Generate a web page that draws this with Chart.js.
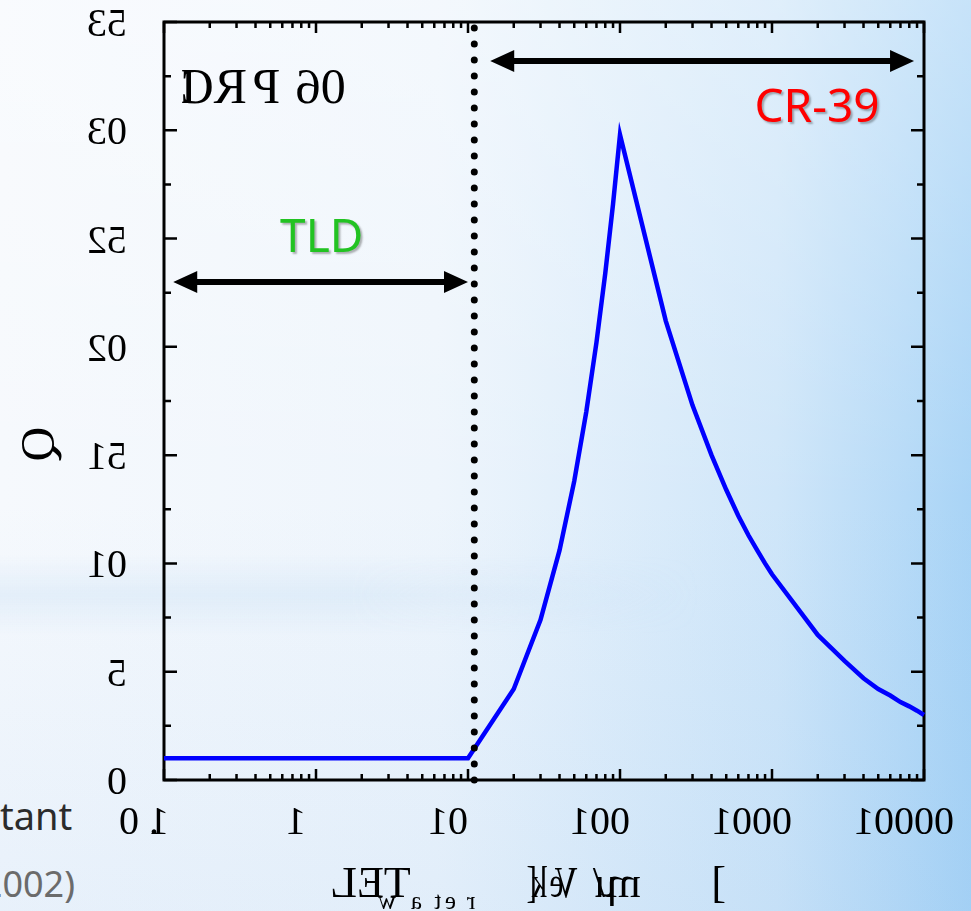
<!DOCTYPE html>
<html>
<head>
<meta charset="utf-8">
<title>Q vs LET</title>
<script src="https://cdn.jsdelivr.net/npm/chart.js@4.4.1/dist/chart.umd.min.js"></script>
<style>
  html, body { margin: 0; padding: 0; }
  body {
    width: 971px; height: 911px; overflow: hidden; position: relative;
    background:
      linear-gradient(to bottom, rgba(255,255,255,0.35) 0%, rgba(255,255,255,0) 55%, rgba(110,170,230,0.10) 100%),
      linear-gradient(to right, #f6f9fd 0%, #eef5fc 45%, #cfe6f9 80%, #a9d4f6 100%);
  }
  #band {
    position: absolute; left: 0; top: 555px; width: 700px; height: 80px;
    background: linear-gradient(to bottom, rgba(175,210,240,0), rgba(175,210,240,0.22), rgba(175,210,240,0));
    -webkit-mask-image: linear-gradient(to right, #000 0%, #000 50%, transparent 100%);
    mask-image: linear-gradient(to right, #000 0%, #000 50%, transparent 100%);
  }
  .frag { position: absolute; font-family: "Noto Sans", sans-serif; white-space: nowrap; line-height: 1; }
  #chart { position: absolute; left: 0; top: 0; }
</style>
</head>
<body>
<div id="band"></div>
<div class="frag" style="left:0; top:796px; font-size:38px; color:#2b2b2b;">tant</div>
<div class="frag" style="left:-29px; top:866px; font-size:36px; color:#6b6b6b;">(2002)</div>
<canvas id="chart" width="971" height="911"></canvas>
<script>
// Quality factor Q as a function of LET in water (keV/um)
const letValues = [0.1, 10, 20, 30, 40, 50, 60, 70, 80, 90, 100,
    200, 300, 400, 500, 600, 700, 800, 900, 1000,
    2000, 3000, 4000, 5000, 6000, 7000, 8000, 9000, 10000];
const qValues = [1, 1, 4.2, 7.4, 10.6, 13.8, 17.0, 20.2, 23.4, 26.6, 29.8,
    21.2, 17.3, 15.0, 13.4, 12.2, 11.3, 10.6, 10.0, 9.5,
    6.7, 5.5, 4.7, 4.2, 3.9, 3.6, 3.4, 3.2, 3.0];

// boundary between the two detector ranges
const boundaryLet = 11;

const xTicks = [0.1, 1, 10, 100, 1000, 10000];
const xTickLabels = ['0.1', '1', '10', '100', '1000', '10000'];
const yTicks = [0, 5, 10, 15, 20, 25, 30, 35];
const yTickLabels = ['0', '5', '10', '15', '20', '25', '30', '35'];

// range arrows (LET from, LET to, Q level) and their captions
const arrowFrom = [0.115, 14];
const arrowTo = [10, 8600];
const arrowLevel = [23.0, 33.2];
const rangeNames = ['TLD', 'CR-39'];
const rangeNameX = [1.09, 1980];
const rangeNameY = [25.0, 31.0];
const rangeNameColors = ['#22c322', '#ff0000'];

const serif = '"Liberation Serif", "Times New Roman", serif';

// Each glyph is flipped around its own origin, the string keeps its order
function drawFlippedText(ctx, text, x, y, align, opts) {
    const sx = (opts && opts.scale) || 1;
    const gap = (opts && opts.spacing) || 0;
    let total = 0;
    for (const ch of text) total += ctx.measureText(ch).width * sx + gap;
    let ox = x;
    if (align === 'center') ox = x - total / 2;
    else if (align === 'right') ox = x - total;
    ctx.textAlign = 'left';
    for (const ch of text) {
        const w = ctx.measureText(ch).width * sx;
        ctx.save();
        ctx.translate(ox, y);
        ctx.scale(-sx, 1);
        ctx.fillText(ch, 0, 0);
        ctx.restore();
        ox += w + gap;
    }
    return ox;
}

function logMinorTicks(min, max) {
    const out = [];
    for (let d = min; d < max; d *= 10) {
        for (let k = 2; k <= 9; k++) out.push(d * k);
    }
    return out;
}

const framePlugin = {
    id: 'frame',
    beforeDatasetsDraw(chart) {
        const { ctx, chartArea: a, scales: { x, y } } = chart;
        ctx.save();
        ctx.strokeStyle = '#000';
        ctx.lineWidth = 3;
        ctx.strokeRect(a.left, a.top, a.right - a.left, a.bottom - a.top);

        ctx.lineWidth = 2.5;
        ctx.beginPath();
        // y ticks on both sides, every 2.5
        for (let v = 0; v <= 35; v += 2.5) {
            const py = y.getPixelForValue(v);
            const len = v % 5 === 0 ? 13 : 7;
            ctx.moveTo(a.left, py); ctx.lineTo(a.left + len, py);
            ctx.moveTo(a.right, py); ctx.lineTo(a.right - len, py);
        }
        // x ticks on bottom and top, log spaced
        xTicks.forEach(v => {
            const px = x.getPixelForValue(v);
            ctx.moveTo(px, a.bottom); ctx.lineTo(px, a.bottom - 11);
            ctx.moveTo(px, a.top); ctx.lineTo(px, a.top + 11);
        });
        logMinorTicks(0.1, 10000).forEach(v => {
            const px = x.getPixelForValue(v);
            ctx.moveTo(px, a.bottom); ctx.lineTo(px, a.bottom - 6);
            ctx.moveTo(px, a.top); ctx.lineTo(px, a.top + 6);
        });
        ctx.stroke();
        ctx.restore();
    },
    afterDraw(chart) {
        const { ctx, chartArea: a, scales: { x, y } } = chart;
        ctx.save();
        ctx.fillStyle = '#000';
        ctx.textBaseline = 'alphabetic';

        // tick labels
        ctx.font = '40px ' + serif;
        xTicks.forEach((v, i) => {
            drawFlippedText(ctx, xTickLabels[i], x.getPixelForValue(v), a.bottom + 54, 'center');
        });
        yTicks.forEach((v, i) => {
            drawFlippedText(ctx, yTickLabels[i], a.left - 17, y.getPixelForValue(v) + 14, 'right');
        });

        // x axis title: LET with subscript, then the unit
        ctx.font = '44px ' + serif;
        drawFlippedText(ctx, 'LET', 357, 897, 'left');
        ctx.font = '25px ' + serif;
        drawFlippedText(ctx, 'water', 396, 909, 'left', { spacing: 8 });
        ctx.font = '44px ' + serif;
        drawFlippedText(ctx, '[keV', 537, 897, 'left', { scale: 0.72 });
        drawFlippedText(ctx, '/\u03bcm', 605, 897, 'left');
        drawFlippedText(ctx, ']', 726, 897, 'left');

        // y axis title
        ctx.save();
        ctx.translate(41, 444);
        ctx.rotate(-Math.PI / 2);
        ctx.scale(-1, 1);
        ctx.font = '48px ' + serif;
        ctx.textAlign = 'center';
        ctx.textBaseline = 'middle';
        ctx.fillText('Q', 0, 0);
        ctx.restore();

        // recommendation label
        ctx.font = '50px ' + serif;
        drawFlippedText(ctx, 'ICRP 60', 197, 103, 'left');

        // range arrows
        ctx.lineWidth = 6;
        ctx.strokeStyle = '#000';
        arrowFrom.forEach((from, i) => {
            const x1 = x.getPixelForValue(from);
            const x2 = x.getPixelForValue(arrowTo[i]);
            const py = y.getPixelForValue(arrowLevel[i]);
            const head = 24, half = 11;
            ctx.beginPath();
            ctx.moveTo(x1 + head - 2, py);
            ctx.lineTo(x2 - head + 2, py);
            ctx.stroke();
            ctx.beginPath();
            ctx.moveTo(x1, py);
            ctx.lineTo(x1 + head, py - half);
            ctx.lineTo(x1 + head, py + half);
            ctx.closePath();
            ctx.moveTo(x2, py);
            ctx.lineTo(x2 - head, py - half);
            ctx.lineTo(x2 - head, py + half);
            ctx.closePath();
            ctx.fill();
        });

        // range captions
        ctx.font = '46px "Noto Sans", sans-serif';
        ctx.textAlign = 'center';
        ctx.textBaseline = 'middle';
        ctx.shadowColor = 'rgba(0,0,0,0.3)';
        ctx.shadowOffsetX = 2;
        ctx.shadowOffsetY = 2;
        ctx.shadowBlur = 2;
        rangeNames.forEach((name, i) => {
            ctx.fillStyle = rangeNameColors[i];
            ctx.fillText(name, x.getPixelForValue(rangeNameX[i]), y.getPixelForValue(rangeNameY[i]));
        });
        ctx.restore();
    }
};

new Chart(document.getElementById('chart'), {
    type: 'line',
    data: {
        datasets: [
            {
                data: [{ x: boundaryLet, y: 0 }, { x: boundaryLet, y: 35 }],
                borderColor: '#000',
                borderWidth: 7,
                borderDash: [0, 16],
                borderCapStyle: 'round',
                pointRadius: 0,
                clip: false,
                order: 0
            },
            {
                data: letValues.map((v, i) => ({ x: v, y: qValues[i] })),
                borderColor: '#0000ff',
                borderWidth: 4.5,
                pointRadius: 0,
                tension: 0,
                clip: false,
                order: 1
            }
        ]
    },
    options: {
        responsive: false,
        animation: false,
        layout: { padding: { left: 164, right: 47, top: 22, bottom: 131 } },
        scales: {
            x: { type: 'logarithmic', min: 0.1, max: 10000, display: false },
            y: { type: 'linear', min: 0, max: 35, display: false }
        },
        plugins: { legend: { display: false }, tooltip: { enabled: false } }
    },
    plugins: [framePlugin]
});
</script>
</body>
</html>
